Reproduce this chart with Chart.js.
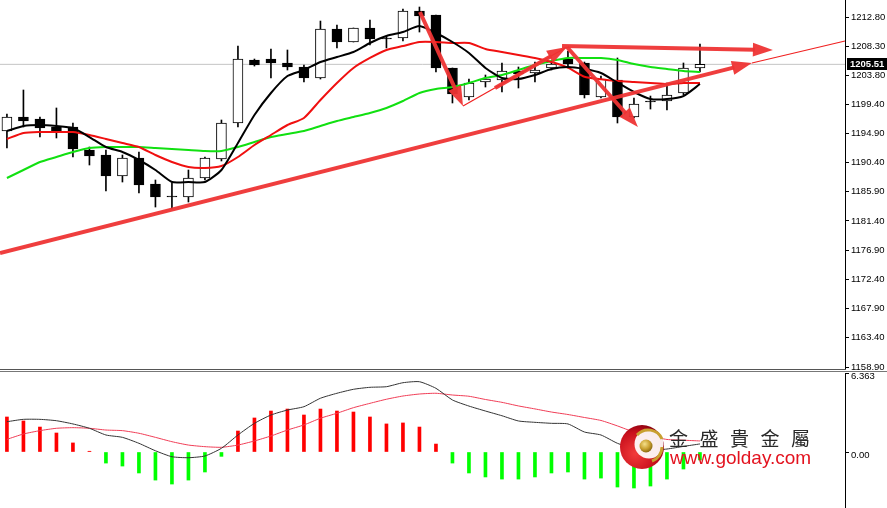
<!DOCTYPE html>
<html><head><meta charset="utf-8">
<script src="https://cdn.jsdelivr.net/npm/chart.js@4"></script>
<style>
html,body{margin:0;padding:0;background:#fff;overflow:hidden}
#wrap{position:relative;width:887px;height:508px;background:#fff}
#c1{position:absolute;left:0;top:0}
#c2{position:absolute;left:0;top:370px}
.sep{position:absolute;left:0;height:1px;background:#555}
#logo{position:absolute;left:618px;top:423px}
#cn{position:absolute;left:669px;top:428px;font-family:'Noto Sans CJK TC';font-size:19px;line-height:19px;letter-spacing:11.5px;color:#2a2a2a;white-space:nowrap}
#url{position:absolute;left:670px;top:448px;font-family:'Liberation Sans';font-size:19px;line-height:19px;color:#e3121e;white-space:nowrap}
</style></head><body>
<div id="wrap">
<canvas id="c1" width="887" height="370"></canvas>
<canvas id="c2" width="887" height="138"></canvas>
<div class="sep" style="top:369px;width:846px"></div>
<div class="sep" style="top:371px;width:887px;background:#777"></div>
<svg id="logo" width="56" height="52" viewBox="0 0 56 52">
<defs>
<radialGradient id="rg" cx="35%" cy="65%" r="70%"><stop offset="0" stop-color="#f23a3a"/><stop offset="0.7" stop-color="#c8101c"/><stop offset="1" stop-color="#8a0010"/></radialGradient>
<radialGradient id="gb" cx="40%" cy="35%" r="65%"><stop offset="0" stop-color="#f5e08a"/><stop offset="0.6" stop-color="#c9a030"/><stop offset="1" stop-color="#8a6a10"/></radialGradient>
</defs>
<circle cx="24" cy="24" r="22" fill="url(#rg)"/>
<circle cx="31" cy="21" r="14.5" fill="#fff" fill-opacity="0.93"/>
<path d="M19 12 A15 15 0 0 1 44 16" stroke="#c9a030" stroke-width="3" fill="none"/>
<path d="M44 24 A15 15 0 0 1 34 38" stroke="#c9a030" stroke-width="3" fill="none"/>
<circle cx="28" cy="23" r="6.5" fill="url(#gb)"/>
</svg>
<div id="cn">金盛貴金屬</div>
<div id="url">www.golday.com</div>
</div>
<script>
// ---------- price candles ----------
const openP  = [1195.24,1197.40,1197.09,1195.86,1195.86,1192.32,1191.55,1188.32,1191.09,1187.08,1185.08,1185.08,1188.01,1190.94,1196.48,1206.18,1206.33,1205.72,1205.10,1203.41,1210.95,1208.95,1211.11,1209.41,1209.57,1213.72,1213.11,1204.95,1200.48,1202.79,1203.10,1204.48,1204.18,1204.95,1206.33,1205.72,1200.48,1203.10,1197.40,1199.71,1199.87,1201.10,1204.95];
const highP  = [1197.86,1201.56,1197.40,1198.79,1196.48,1192.78,1192.32,1191.55,1192.01,1187.70,1187.24,1189.24,1191.24,1196.94,1208.33,1206.33,1207.87,1207.72,1205.41,1212.18,1211.57,1211.11,1212.34,1209.88,1214.03,1214.34,1213.11,1204.95,1203.25,1203.87,1205.72,1205.10,1205.87,1205.87,1207.56,1205.87,1203.71,1206.49,1200.33,1200.63,1202.64,1205.72,1208.64];
const lowP   = [1192.63,1195.86,1194.32,1194.17,1191.24,1190.01,1186.00,1187.39,1185.70,1183.54,1183.23,1184.31,1187.70,1190.63,1195.86,1205.25,1203.41,1204.64,1202.79,1203.25,1208.03,1208.95,1208.49,1208.03,1209.10,1210.49,1204.33,1199.56,1200.02,1202.02,1201.25,1201.87,1202.79,1204.64,1204.95,1200.33,1200.33,1196.48,1197.25,1198.63,1198.48,1200.79,1204.33];
const closeP = [1197.40,1196.78,1195.71,1195.24,1192.48,1191.40,1188.32,1191.09,1186.93,1185.08,1185.12,1188.01,1191.09,1196.48,1206.33,1205.41,1205.72,1205.10,1203.41,1210.95,1208.95,1211.11,1209.41,1209.57,1213.72,1212.95,1204.95,1200.94,1202.64,1203.25,1204.48,1204.02,1204.64,1205.56,1205.56,1200.79,1203.25,1197.40,1199.40,1199.80,1200.79,1204.95,1205.51];
// moving averages
const maBlack = [1195.24,1196.01,1196.17,1196.01,1195.71,1194.32,1192.78,1192.01,1190.78,1189.24,1187.39,1187.39,1187.39,1189.24,1193.40,1197.71,1201.10,1203.71,1204.64,1205.87,1206.64,1207.41,1208.80,1209.88,1210.49,1211.41,1210.34,1208.95,1207.26,1204.95,1203.41,1203.25,1203.87,1204.79,1205.10,1204.79,1204.18,1202.70,1201.25,1200.17,1200.17,1200.63,1202.48];
const maRed   = [1194.02,1194.94,1195.09,1195.09,1195.09,1194.63,1194.02,1193.40,1192.78,1191.55,1190.47,1189.70,1189.55,1189.85,1191.24,1193.09,1194.63,1196.17,1197.25,1200.02,1202.64,1204.95,1206.49,1207.72,1208.33,1208.95,1208.95,1208.80,1208.80,1207.87,1207.41,1206.95,1206.49,1205.87,1205.00,1203.60,1203.20,1202.94,1202.79,1202.64,1202.48,1202.64,1202.64];
const maGreen = [1188.01,1189.24,1190.47,1191.24,1192.01,1192.63,1192.78,1192.78,1192.78,1192.63,1192.48,1192.32,1192.17,1192.17,1192.78,1193.55,1194.32,1194.78,1195.24,1196.01,1196.78,1197.40,1198.02,1198.79,1199.87,1201.10,1201.71,1202.02,1202.64,1203.41,1203.87,1204.64,1205.41,1206.02,1206.49,1206.49,1206.49,1206.18,1205.56,1205.10,1204.79,1204.48,1204.33];
const priceTicks = [1212.80,1208.30,1203.80,1199.40,1194.90,1190.40,1185.90,1181.40,1176.90,1172.40,1167.90,1163.40,1158.90];
const lastPrice = 1205.51;
// hand-drawn trend objects: [startIndex, startPrice, endIndex, endPrice]
const thickArrows = [
  [-0.42, 1176.46, 45.15, 1205.72],
  [25.03, 1213.57, 27.64, 1199.09],
  [29.58, 1201.87, 33.94, 1208.18],
  [33.64, 1208.33, 46.42, 1207.72],
  [33.94, 1208.18, 38.24, 1195.86]
];
const thinLines = [
  [45.15, 1205.72, 50.79, 1209.10],
  [27.64, 1199.09, 33.94, 1208.18]
];
// ---------- MACD ----------
const macdHist   = [2.82,2.50,2.01,1.53,0.73,0.06,-0.89,-1.13,-1.69,-2.26,-2.58,-2.26,-1.61,-0.35,1.69,2.74,3.30,3.46,2.98,3.46,3.30,3.22,2.82,2.26,2.34,2.01,0.64,-0.89,-1.69,-2.01,-2.18,-2.18,-2.01,-1.69,-1.61,-2.18,-2.10,-2.82,-2.90,-2.74,-2.18,-1.37,-0.64];
const macdMain   = [2.44,2.63,2.63,2.52,2.26,1.91,1.37,1.18,0.70,0.10,-0.38,-0.46,-0.32,0.30,1.37,2.31,2.98,3.38,3.65,4.33,4.73,5.05,5.21,5.26,5.58,5.66,5.13,4.19,3.70,3.30,2.92,2.50,2.39,2.31,2.26,1.61,1.37,0.70,0.28,0.14,0.24,0.45,0.65];
const macdSignal = [1.02,1.45,1.72,1.91,1.96,1.91,1.77,1.72,1.51,1.18,0.83,0.56,0.43,0.38,0.56,0.89,1.29,1.77,2.18,2.72,3.12,3.57,3.92,4.25,4.51,4.67,4.73,4.59,4.49,4.23,4.00,3.71,3.47,3.22,3.02,2.78,2.54,2.10,1.61,1.29,1.01,0.95,0.89];
const macdTicks = [6.363, 0];
const macdTickLabels = ['6.363', '0.00'];

const XMIN = -0.42, XMAX = 50.79;
const idx = closeP.map((_, i) => i);
const pts = arr => arr.map((v, i) => ({x: i, y: v}));
const tickFont = {family: 'Liberation Sans', size: 9.5};

function drawArrow(ctx, x1, y1, x2, y2, w, hl, hw, color) {
  const a = Math.atan2(y2 - y1, x2 - x1);
  const bx = x2 - hl * Math.cos(a), by = y2 - hl * Math.sin(a);
  ctx.strokeStyle = color; ctx.lineWidth = w; ctx.lineCap = 'butt';
  ctx.beginPath(); ctx.moveTo(x1, y1); ctx.lineTo(bx + 2*Math.cos(a), by + 2*Math.sin(a)); ctx.stroke();
  ctx.fillStyle = color; ctx.beginPath();
  ctx.moveTo(x2, y2);
  ctx.lineTo(bx + hw * Math.sin(a), by - hw * Math.cos(a));
  ctx.lineTo(bx - hw * Math.sin(a), by + hw * Math.cos(a));
  ctx.closePath(); ctx.fill();
}

const overlayPlugin = {
  id: 'overlay',
  afterDatasetsDraw(chart) {
    const {ctx, scales: {x, y}} = chart;
    ctx.save();
    const col = 'rgba(238,52,52,0.95)';
    thinLines.forEach(s => {
      ctx.strokeStyle = '#f02020'; ctx.lineWidth = 1.2;
      ctx.beginPath();
      ctx.moveTo(x.getPixelForValue(s[0]), y.getPixelForValue(s[1]));
      ctx.lineTo(x.getPixelForValue(s[2]), y.getPixelForValue(s[3]));
      ctx.stroke();
    });
    thickArrows.forEach(s => {
      drawArrow(ctx, x.getPixelForValue(s[0]), y.getPixelForValue(s[1]),
        x.getPixelForValue(s[2]), y.getPixelForValue(s[3]), 4, 20, 7, col);
    });
    ctx.restore();
  },
  afterDraw(chart) {
    const {ctx, chartArea, scales: {y}} = chart;
    const py = Math.round(y.getPixelForValue(lastPrice));
    ctx.save();
    ctx.fillStyle = '#000';
    ctx.fillRect(chartArea.right + 2, py - 6, 887 - chartArea.right - 2, 12);
    ctx.fillStyle = '#fff';
    ctx.font = 'bold 9.5px "Liberation Sans"';
    ctx.textBaseline = 'middle';
    ctx.fillText(lastPrice.toFixed(2), chartArea.right + 5, py + 0.5);
    ctx.restore();
  }
};

function yAxis(min, max, ticks, labels, labelOffset) {
  return {
    type: 'linear', position: 'right', min, max,
    afterBuildTicks: s => { s.ticks = ticks.map(v => ({value: v})); },
    afterFit: s => { s.width = 42; s.paddingTop = 0; s.paddingBottom = 0; },
    grid: {display: true, drawOnChartArea: false, drawTicks: true, tickLength: 4, color: '#000', lineWidth: 1},
    border: {display: true, color: '#000', width: 1},
    ticks: {color: '#000', font: tickFont, padding: 2, autoSkip: false, labelOffset: labelOffset,
      callback: (v) => { const k = ticks.indexOf(v); return k >= 0 ? labels[k] : ''; }}
  };
}

new Chart(document.getElementById('c1'), {
  type: 'bar',
  data: {datasets: [
    {type: 'line', label: 'MA black', data: pts(maBlack), borderColor: '#000', borderWidth: 2, pointRadius: 0, tension: 0.2, order: 1},
    {type: 'line', label: 'MA red', data: pts(maRed), borderColor: '#f01010', borderWidth: 2, pointRadius: 0, tension: 0.2, order: 2},
    {type: 'line', label: 'MA green', data: pts(maGreen), borderColor: '#11e011', borderWidth: 2, pointRadius: 0, tension: 0.2, order: 3},
    {type: 'bar', label: 'body', data: idx.map(i => ({x: i, y: [openP[i], closeP[i]]})),
      backgroundColor: idx.map(i => closeP[i] - openP[i] > 0.2 ? '#fff' : '#000'),
      borderColor: '#000', borderWidth: 1, borderSkipped: false, barThickness: 10, minBarLength: 1, grouped: false, order: 4},
    {type: 'bar', label: 'wick', data: idx.map(i => ({x: i, y: [lowP[i], highP[i]]})),
      backgroundColor: '#000', borderWidth: 0, barThickness: 1, grouped: false, order: 5},
    {type: 'line', label: 'last', data: [{x: XMIN, y: lastPrice}, {x: XMAX, y: lastPrice}],
      borderColor: '#c4c4c4', borderWidth: 1, pointRadius: 0, order: 6}
  ]},
  options: {
    responsive: false, animation: false, devicePixelRatio: 1, events: [],
    layout: {padding: 0},
    plugins: {legend: {display: false}, tooltip: {enabled: false}},
    scales: {
      x: {type: 'linear', min: XMIN, max: XMAX, display: false, offset: false},
      y: yAxis(1158.44, 1215.42, priceTicks, priceTicks.map(v => v.toFixed(2)), 0)
    }
  },
  plugins: [overlayPlugin]
});

new Chart(document.getElementById('c2'), {
  type: 'bar',
  data: {datasets: [
    {type: 'line', label: 'MACD', data: pts(macdMain), borderColor: '#333', borderWidth: 1, pointRadius: 0, tension: 0.2, order: 1},
    {type: 'line', label: 'Signal', data: pts(macdSignal), borderColor: '#f03c55', borderWidth: 1, pointRadius: 0, tension: 0.2, order: 2},
    {type: 'bar', label: 'Hist', data: pts(macdHist),
      backgroundColor: macdHist.map(v => v >= 0 ? '#ff0000' : '#00ff00'),
      borderWidth: 0, barThickness: 3, grouped: false, order: 3}
  ]},
  options: {
    responsive: false, animation: false, devicePixelRatio: 1, events: [],
    layout: {padding: {top: 3, left: 0, right: 0, bottom: 0}},
    plugins: {legend: {display: false}, tooltip: {enabled: false}},
    scales: {
      x: {type: 'linear', min: XMIN, max: XMAX, display: false, offset: false},
      y: yAxis(-4.51, 6.363, macdTicks, macdTickLabels, 3)
    }
  }
});
</script>
</body></html>
